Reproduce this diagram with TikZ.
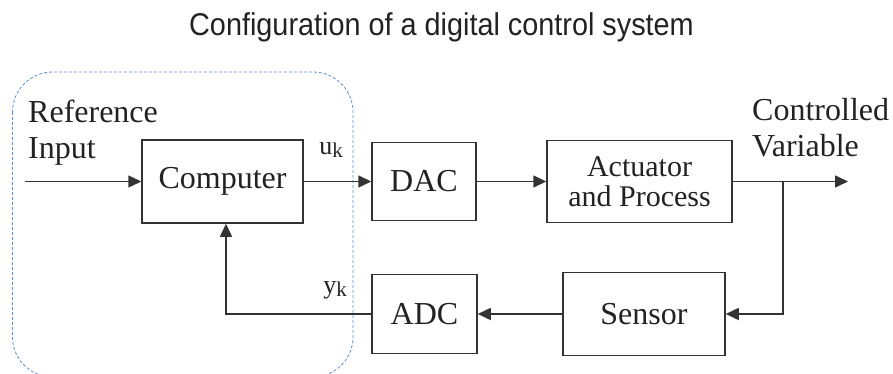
\documentclass[tikz,border=0pt]{standalone}
\usepackage{fontspec}
\setmainfont{Liberation Serif}
\newfontfamily\titlefont{Liberation Sans}
\usetikzlibrary{arrows.meta}
\definecolor{ink}{HTML}{222222}
\definecolor{wirecol}{HTML}{333333}
\definecolor{zone}{HTML}{5B8FE0}
\newcommand{\sub}[1]{{\fontsize{21}{21}\selectfont\raisebox{-3pt}{#1}}}
\begin{document}
\begin{tikzpicture}[x=1pt,y=-1pt,
  block/.style={draw=wirecol, line width=1.5pt, fill=white, inner sep=0pt,
    text=ink, align=center, font=\fontsize{32}{30}\selectfont},
  wire/.style={draw=wirecol, line width=1.5pt},
  flow/.style={wire, -{Triangle[length=13pt,width=12pt]}},
  lbl/.style={text=ink, inner sep=0pt, align=left, font=\fontsize{32}{36}\selectfont},
  sig/.style={text=ink, inner sep=0pt, font=\fontsize{26}{28}\selectfont}
]
\useasboundingbox (0,0) rectangle (893,374);
\clip (0,0) rectangle (893,374);

% title, set in a narrowed sans
\node[text=ink, inner sep=0pt, anchor=base, font=\titlefont\fontsize{31.5}{34}\selectfont]
  (title) at (441.5,36) {\scalebox{0.915}[1]{Configuration of a digital control system}};

% computer boundary
\draw[zone, line width=0.8pt, dash pattern=on 3pt off 2pt, rounded corners=40pt]
  (12.5,72) rectangle (353,377);

% blocks
\node[block, minimum width=161pt, minimum height=83pt] (comp) at (222.5,181.5) {Computer};
\node[block, minimum width=104pt, minimum height=78pt] (dac) at (424,181.5) {DAC};
\node[block, minimum width=185pt, minimum height=82pt, font=\fontsize{30}{30}\selectfont]
  (act) at (639.5,181.5) {Actuator\\and Process};
\node[block, minimum width=105pt, minimum height=79pt] (adc) at (424.5,314) {ADC};
\node[block, minimum width=162pt, minimum height=83pt] (sen) at (644,314) {Sensor};

% labels
\node[lbl, anchor=west] (refin) at (28,133) {Reference\\Input};
\node[lbl, anchor=west] (cv) at (752,127.5) {Controlled\\Variable};
\node[sig] (uk) at (331,150) {u\sub{k}};
\node[sig] (yk) at (335,290) {y\sub{k}};

% forward path
\coordinate (in) at (25,181.5);
\coordinate (out) at (848,181.5);
\coordinate (tap) at (783,181.5);
\coordinate (turn) at (783,314);
\coordinate (corner) at (226,314);
\draw[flow] (in) -- (comp);
\draw[flow] (comp) -- (dac);
\draw[flow] (dac) -- (act);
\draw[flow] (act) -- (out);

% feedback path
\draw[flow] (tap) -- (turn) -- (sen);
\draw[flow] (sen) -- (adc);
\draw[flow] (adc) -- (corner) -- (corner |- comp.south);
\end{tikzpicture}
\end{document}
